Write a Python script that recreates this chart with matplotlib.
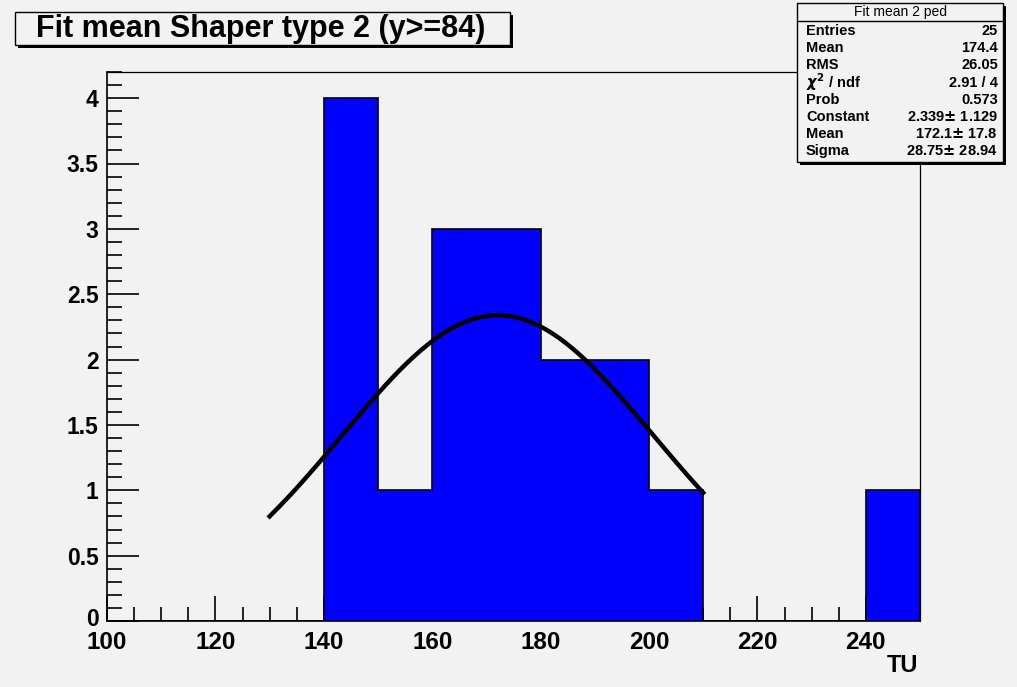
import numpy as np
import matplotlib
matplotlib.use("Agg")
import matplotlib.pyplot as plt
import matplotlib.transforms as mtransforms
from matplotlib.patches import Rectangle
from matplotlib.ticker import MultipleLocator

plt.rcParams['font.family'] = ['Liberation Sans', 'DejaVu Sans']
plt.rcParams['font.weight'] = 'bold'

# histogram: 10 TU bins from 100 to 250
bin_edges = np.arange(100, 260, 10)
counts = [0, 0, 0, 0, 4, 1, 3, 3, 2, 2, 1, 0, 0, 0, 1]

# gaussian fit result
fit_const = 2.339
fit_mean = 172.1
fit_sigma = 28.75
fit_range = (130, 210)

stat_title = "Fit mean 2 ped"
stat_names = ["Entries", "Mean", "RMS", r"$\chi^2$ / ndf", "Prob", "Constant", "Mean", "Sigma"]
stat_values = ["25", "174.4", "26.05", "2.91 / 4", "0.573",
               "2.339$\\pm$ 1.129", "172.1$\\pm$ 17.8", "28.75$\\pm$ 28.94"]

bg = "#f2f2f2"
W, H = 1017, 687
fig = plt.figure(figsize=(W / 100, H / 100), dpi=100, facecolor=bg)

def px(x, y, w, h):
    # pixel box (top-left origin) -> figure fraction
    return [x / W, 1 - (y + h) / H, w / W, h / H]

ax = fig.add_axes(px(107, 72, 813, 549))
ax.set_facecolor(bg)

ax.stairs(counts, bin_edges, fill=True, facecolor="#0000ff", edgecolor="black", linewidth=1.2, zorder=2)

xf = np.linspace(fit_range[0], fit_range[1], 200)
yf = fit_const * np.exp(-0.5 * ((xf - fit_mean) / fit_sigma) ** 2)
ax.plot(xf, yf, color="black", linewidth=3.2, zorder=3)

ax.set_xlim(100, 250)
ax.set_ylim(0, 4.2)
ax.xaxis.set_major_locator(MultipleLocator(20))
ax.xaxis.set_minor_locator(MultipleLocator(5))
ax.yaxis.set_major_locator(MultipleLocator(0.5))
ax.yaxis.set_minor_locator(MultipleLocator(0.1))
ax.tick_params(axis='x', which='major', direction='in', length=18, width=1.2, labelsize=17.5, pad=7)
ax.tick_params(axis='x', which='minor', direction='in', length=10, width=1.2)
ax.tick_params(axis='y', which='major', direction='in', length=23, width=1.2, labelsize=16.5, pad=6)
ax.tick_params(axis='y', which='minor', direction='in', length=11, width=1.2)
ax.yaxis.set_major_formatter(plt.FuncFormatter(lambda v, p: f"{v:g}"))
for s in ax.spines.values():
    s.set_linewidth(1.2)
for s in ("top", "right"):
    ax.spines[s].set_linewidth(0.9)

# lift the "0" label a little so it clears the x labels
fig.canvas.draw()
for tick in ax.yaxis.get_major_ticks():
    if abs(tick.get_loc()) < 1e-9:
        lab = tick.label1
        lab.set_transform(lab.get_transform() + mtransforms.ScaledTranslation(0, 4 / 100, fig.dpi_scale_trans))

fig.text(918 / W, 1 - 666 / H, "TU", ha="right", va="center", fontsize=17, fontweight="bold")

# title box with shadow
fig.patches.append(Rectangle((18 / W, 1 - 48 / H), 495 / W, 33 / H, transform=fig.transFigure,
                             facecolor="black", edgecolor="none", zorder=5))
fig.patches.append(Rectangle((15 / W, 1 - 45 / H), 495 / W, 33 / H, transform=fig.transFigure,
                             facecolor=bg, edgecolor="black", linewidth=1.0, zorder=6))
fig.text(261 / W, 1 - 29 / H, "Fit mean Shaper type 2 (y>=84)", ha="center", va="center",
         fontsize=22, fontweight="bold", zorder=7)

# stats box with shadow
bx, by, bw, bh = 797, 3, 206, 159
fig.patches.append(Rectangle(((bx + 3) / W, 1 - (by + bh + 3) / H), bw / W, bh / H,
                             transform=fig.transFigure, facecolor="black", edgecolor="none", zorder=5))
fig.patches.append(Rectangle((bx / W, 1 - (by + bh) / H), bw / W, bh / H,
                             transform=fig.transFigure, facecolor=bg, edgecolor="black",
                             linewidth=1.0, zorder=6))
fig.add_artist(plt.Line2D([bx / W, (bx + bw) / W], [1 - 21 / H, 1 - 21 / H],
                          transform=fig.transFigure, color="black", linewidth=1.0, zorder=7))
fig.text((bx + bw / 2) / W, 1 - 12 / H, stat_title, ha="center", va="center",
         fontsize=10, fontweight="normal", zorder=7)
row_y = 31
for name, val in zip(stat_names, stat_values):
    fig.text((bx + 9) / W, 1 - row_y / H, name, ha="left", va="center", fontsize=10.5,
             fontweight="bold", zorder=7)
    fig.text((bx + bw - 5) / W, 1 - row_y / H, val, ha="right", va="center", fontsize=10.5,
             fontweight="bold", zorder=7)
    row_y += 17.2

fig.savefig("out.png", dpi=100, facecolor=bg)
